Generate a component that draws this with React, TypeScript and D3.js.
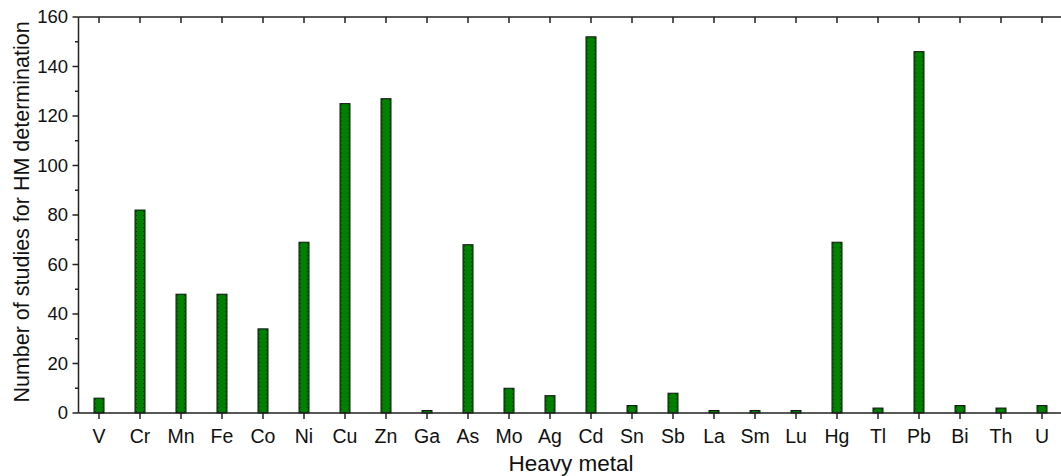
import React from "react";
import * as d3 from "d3";

const metals = ["V","Cr","Mn","Fe","Co","Ni","Cu","Zn","Ga","As","Mo","Ag","Cd","Sn","Sb","La","Sm","Lu","Hg","Tl","Pb","Bi","Th","U"];
const studies = [6,82,48,48,34,69,125,127,1,68,10,7,152,3,8,1,1,1,69,2,146,3,2,3];
const yTicks = [0,20,40,60,80,100,120,140,160];
const yMinor = [10,30,50,70,90,110,130,150];

const W = 1061, H = 476;
const left = 78.5, bottom = 413, top = 17;
const step = 41;

export default function App() {
  const x = d3.scaleBand<string>().domain(metals).range([left, left + step * metals.length]).paddingInner(0).paddingOuter(0);
  const y = d3.scaleLinear().domain([0, 160]).range([bottom, top]);
  const bw = 10;
  const font = "'Liberation Sans', Arial, sans-serif";
  const right = left + step * metals.length;
  return (
    <svg width={W} height={H} style={{ position: "absolute", left: 0, top: 0, background: "#fff" }} fontFamily={font}>
      {metals.map((m, i) => {
        const cx = x(m)! + x.bandwidth() / 2;
        const y0 = y(studies[i]);
        return (
          <g key={m}>
            <rect x={cx - bw / 2} y={y0} width={bw} height={bottom - y0} fill="#008000" stroke="#111" strokeWidth={1} />
            <line x1={cx - bw / 2 + 1.5} x2={cx - bw / 2 + 1.5} y1={y0 + 1} y2={bottom} stroke="#003300" strokeWidth={1} strokeDasharray="1,3" />
            <line x1={cx + bw / 2 - 1.5} x2={cx + bw / 2 - 1.5} y1={y0 + 1} y2={bottom} stroke="#003300" strokeWidth={1} strokeDasharray="1,3" />
          </g>
        );
      })}
      {/* axes */}
      <line x1={left} x2={right} y1={bottom} y2={bottom} stroke="#222" strokeWidth={1.5} />
      <line x1={left} x2={right} y1={top} y2={top} stroke="#222" strokeWidth={1.5} />
      <line x1={left} x2={left} y1={top} y2={bottom} stroke="#222" strokeWidth={1.5} />
      {yTicks.map(t => (
        <g key={t}>
          <line x1={left - 6} x2={left} y1={y(t)} y2={y(t)} stroke="#222" strokeWidth={1.5} />
          <text x={left - 10.5} y={y(t)} dy="0.35em" textAnchor="end" fontSize={18.5} fill="#111">{t}</text>
        </g>
      ))}
      {yMinor.map(t => (
        <line key={t} x1={left - 3.5} x2={left} y1={y(t)} y2={y(t)} stroke="#222" strokeWidth={1.5} />
      ))}
      {metals.map(m => {
        const cx = x(m)! + x.bandwidth() / 2;
        return (
          <g key={"t" + m}>
            <line x1={cx} x2={cx} y1={bottom} y2={bottom + 6} stroke="#222" strokeWidth={1.5} />
            <line x1={cx} x2={cx} y1={top} y2={top + 6} stroke="#222" strokeWidth={1.5} />
            <text x={cx} y={443} textAnchor="middle" fontSize={19.5} fill="#111">{m}</text>
          </g>
        );
      })}
      <text x={571} y={470.5} textAnchor="middle" fontSize={22.5} fill="#111">Heavy metal</text>
      <text transform={`translate(29,212) rotate(-90)`} textAnchor="middle" fontSize={21.5} fill="#111">Number of studies for HM determination</text>
    </svg>
  );
}
